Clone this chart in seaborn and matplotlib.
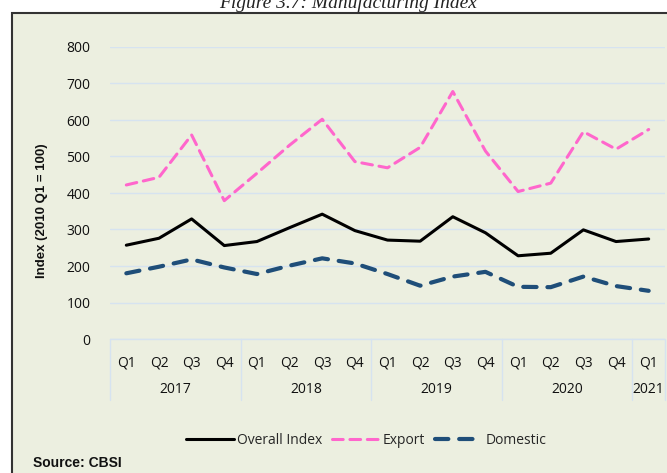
import pandas as pd
import seaborn as sns
import matplotlib.pyplot as plt
from matplotlib.patches import Rectangle

# quarters 2017 Q1 .. 2021 Q1
quarters = ["Q1", "Q2", "Q3", "Q4"] * 4 + ["Q1"]
years = ["2017", "2018", "2019", "2020", "2021"]
year_counts = [4, 4, 4, 4, 1]

overall = [257, 276, 329, 256, 267, 305, 342, 297, 271, 268, 335, 291, 228, 235, 299, 267, 274]
export = [422, 443, 559, 379, 454, 531, 602, 486, 469, 525, 678, 515, 404, 427, 568, 520, 574]
domestic = [180, 198, 218, 196, 178, 201, 221, 207, 178, 146, 171, 184, 143, 142, 171, 145, 132]

if __name__ == "__main__":
    sns.set_theme(style="white")
    plt.rcParams["font.family"] = ["Open Sans", "DejaVu Sans"]

    data = pd.DataFrame({
        "idx": range(len(quarters)),
        "overall": overall,
        "export": export,
        "domestic": domestic,
    })

    bg = "#ECEFE0"
    grid_c = "#D6E3F0"

    fig = plt.figure(figsize=(6.67, 4.73), dpi=100)
    fig.patch.set_facecolor("white")
    # panel with border
    fig.patches.append(Rectangle((12 / 667, -0.1), 1.1, 1 - 13 / 473 + 0.1,
                                 transform=fig.transFigure, facecolor=bg,
                                 edgecolor="#333333", linewidth=1.5, zorder=-10))
    fig.text(0.522, 1 - 8 / 473, "Figure 3.7: Manufacturing Index", ha="center",
             va="baseline", fontsize=14, style="italic", family="Liberation Serif",
             color="#222222")

    ax = fig.add_axes([110 / 667, 1 - 339 / 473, 555 / 667, 292 / 473])
    ax.patch.set_alpha(0)

    sns.lineplot(data=data, x="idx", y="overall", ax=ax, color="black", lw=2.2,
                 label="Overall Index", solid_capstyle="round")
    sns.lineplot(data=data, x="idx", y="export", ax=ax, color="#FF66CC", lw=2.2,
                 label="Export", dashes=False)
    sns.lineplot(data=data, x="idx", y="domestic", ax=ax, color="#1F4E79", lw=3.0,
                 label="Domestic", dashes=False)
    lines = ax.get_lines()
    lines[1].set_dashes([3.5, 2.2])
    lines[1].set_dash_capstyle("round")
    lines[2].set_dashes([3.2, 2.6])
    lines[2].set_dash_capstyle("round")

    ax.set_xlim(-0.5, len(quarters) - 0.5)
    ax.set_ylim(0, 800)
    ax.set_yticks(range(0, 801, 100))
    ax.yaxis.grid(True, color=grid_c, lw=1)
    ax.set_axisbelow(True)
    for s in ax.spines.values():
        s.set_visible(False)

    ax.set_xticks(range(len(quarters)))
    ax.set_xticklabels(quarters)
    ax.tick_params(axis="both", length=0, labelsize=10, colors="#111111")
    ax.tick_params(axis="x", pad=12)
    ax.tick_params(axis="y", pad=14)
    ax.set_xlabel("")
    ax.set_ylabel("Index (2010 Q1 = 100)", fontsize=9.5, fontweight="bold",
                  family="Liberation Sans", color="#111111")
    ax.yaxis.set_label_coords(-62 / 555, 0.438)

    # year labels and separators below the axis
    trans = ax.get_xaxis_transform()
    ax.plot([-0.5, len(quarters) - 0.5], [0, 0], transform=trans, color=grid_c,
            lw=1, clip_on=False)
    start = 0
    bounds = [-0.5]
    for yr, n in zip(years, year_counts):
        center = start + (n - 1) / 2
        ax.annotate(yr, xy=(center, 0), xycoords=trans, xytext=(0, -36),
                    textcoords="offset points", ha="center", va="center",
                    fontsize=10, color="#111111")
        start += n
        bounds.append(start - 0.5)
    for b in bounds:
        ax.plot([b, b], [0, -61 / 292], transform=trans, color=grid_c, lw=1,
                clip_on=False)

    ax.legend(handles=lines[:3], labels=["Overall Index", "Export", "Domestic"],
              loc="center", bbox_to_anchor=(366.5 / 667, 1 - 440 / 473),
              bbox_transform=fig.transFigure, ncol=3, frameon=False, fontsize=10,
              handlelength=3.4, handletextpad=0.25, columnspacing=0.7)

    fig.text(33 / 667, 1 - 463 / 473, "Source: CBSI", ha="left", va="center",
             fontsize=10, fontweight="bold", family="Liberation Sans", color="#111111")

    plt.savefig("out.png", dpi=100, facecolor=fig.get_facecolor())
